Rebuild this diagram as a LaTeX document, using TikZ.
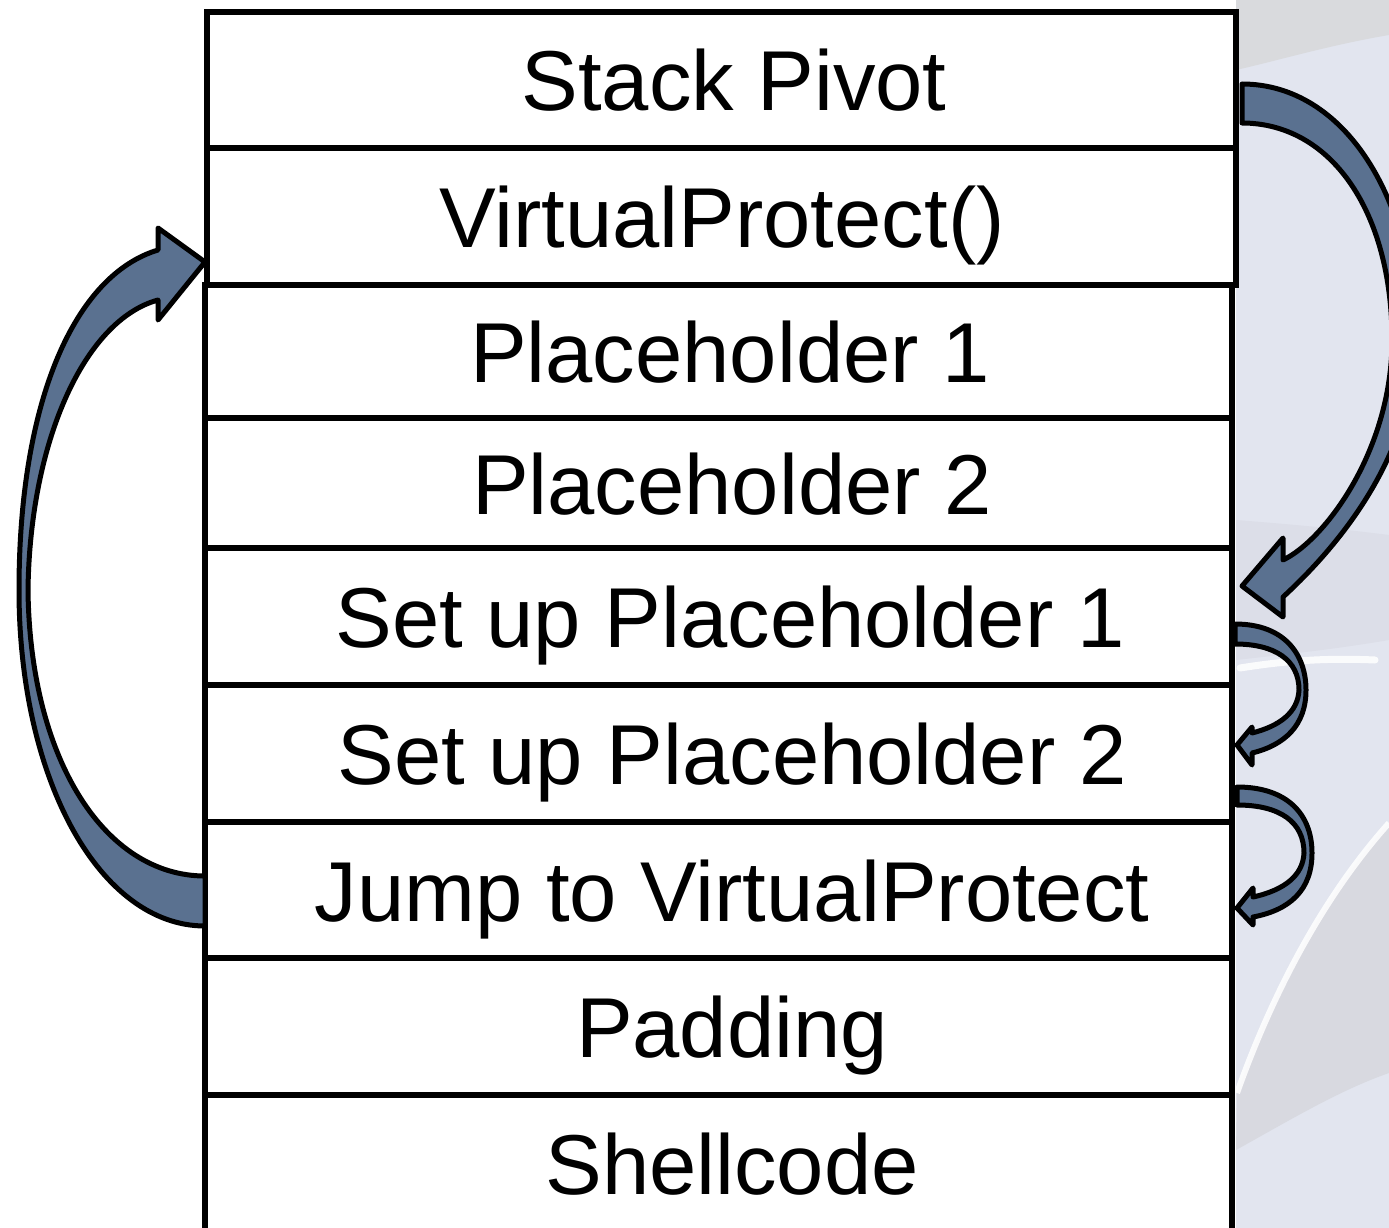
\documentclass[tikz,border=0pt]{standalone}
\usepackage{fontspec}
\setmainfont{Liberation Sans}
\definecolor{arrowblue}{HTML}{5A7190}
\definecolor{bgblue}{HTML}{E2E5EF}
\definecolor{bgtop}{HTML}{D9DADD}
\definecolor{bgmid}{HTML}{DCDEE8}
\definecolor{bgwedge}{HTML}{D8D9E0}
\begin{document}
\begin{tikzpicture}[x=1pt,y=-1pt,
  rowbox/.style={draw=black, fill=white, line width=5.5pt, inner sep=0pt, outer sep=0pt, rectangle},
  lbl/.style={anchor=base, inner sep=0pt, font=\fontsize{85pt}{100pt}\selectfont},
  barrow/.style={fill=arrowblue, draw=black, line width=5pt, line join=round}]
\useasboundingbox (0,0) rectangle (1389,1228);
\begin{scope}
\clip (0,0) rectangle (1389,1228);
% background
\fill[white] (0,0) rectangle (1389,1228);
\fill[bgblue] (1236,0) rectangle (1389,1228);
\fill[bgtop] (1236,0) -- (1389,0) -- (1389,35) .. controls (1330,45) and (1280,60) .. (1236,70) -- cycle;
\fill[bgmid] (1236,520) .. controls (1300,525) and (1350,530) .. (1389,535) -- (1389,640) .. controls (1330,650) and (1280,655) .. (1236,660) -- cycle;
\draw[white, line width=7pt, line cap=round, opacity=0.85] (1240,668) .. controls (1290,660) and (1330,658) .. (1375,660);
\fill[bgwedge] (1389,823) .. controls (1320,900) and (1270,1000) .. (1237,1093) -- (1236,1150) .. controls (1290,1120) and (1340,1090) .. (1389,1073) -- cycle;
\draw[white, line width=6pt, opacity=0.85] (1389,823) .. controls (1320,900) and (1270,1000) .. (1237,1093);
% rows
\node[rowbox, minimum width=1027pt, minimum height=133pt] (r3) at (718.5,351.5) {};
\node[rowbox, minimum width=1027pt, minimum height=130pt] (r4) at (718.5,483) {};
\node[rowbox, minimum width=1027pt, minimum height=137pt] (r5) at (718.5,616.5) {};
\node[rowbox, minimum width=1027pt, minimum height=137pt] (r6) at (718.5,753.5) {};
\node[rowbox, minimum width=1027pt, minimum height=136pt] (r7) at (718.5,890) {};
\node[rowbox, minimum width=1027pt, minimum height=137pt] (r8) at (718.5,1026.5) {};
\node[rowbox, minimum width=1027pt, minimum height=137pt] (r9) at (718.5,1163.5) {};
\node[rowbox, minimum width=1029pt, minimum height=136pt] (r1) at (721.5,80) {};
\node[rowbox, minimum width=1029pt, minimum height=137pt] (r2) at (721.5,216.5) {};
% labels
\node[lbl] (t1) at (734,111) {Stack Pivot};
\node[lbl] (t2) at (722,247.5) {VirtualProtect()};
\node[lbl] (t3) at (730,382.5) {Placeholder 1};
\node[lbl] (t4) at (732,514) {Placeholder 2};
\node[lbl] (t5) at (730,647.5) {Set up Placeholder 1};
\node[lbl] (t6) at (732,784.5) {Set up Placeholder 2};
\node[lbl] (t7) at (732,921) {Jump to VirtualProtect};
\node[lbl] (t8) at (732,1057.5) {Padding};
\node[lbl] (t9) at (732,1194.5) {Shellcode};
% big right arrow: Stack Pivot -> Set up Placeholder 1
\draw[barrow] (1242,84) .. controls (1345,84) and (1415,200) .. (1415,340)
  .. controls (1415,450) and (1345,540) .. (1283,597)
  -- (1283,617) -- (1242,586) -- (1283,538) -- (1283,560)
  .. controls (1325,540) and (1392,450) .. (1392,340)
  .. controls (1392,210) and (1330,123) .. (1242,123) -- cycle;
% small arrow 1: Set up Placeholder 1 -> Set up Placeholder 2
\draw[barrow] (1235,624) .. controls (1285,624) and (1306,655) .. (1306,690)
  .. controls (1306,725) and (1285,745) .. (1252,753)
  -- (1252,765) -- (1237,745) -- (1252,727) -- (1252,733)
  .. controls (1280,726) and (1298,712) .. (1299,690)
  .. controls (1299,660) and (1275,644) .. (1235,644) -- cycle;
% small arrow 2: Set up Placeholder 2 -> Jump to VirtualProtect
\draw[barrow] (1237,787) .. controls (1288,787) and (1312,815) .. (1312,853)
  .. controls (1312,890) and (1290,910) .. (1253,917)
  -- (1253,925) -- (1237,908) -- (1253,888) -- (1253,897)
  .. controls (1285,890) and (1303,875) .. (1304,853)
  .. controls (1304,822) and (1280,805) .. (1237,805) -- cycle;
% left arrow: Jump to VirtualProtect -> VirtualProtect()
\draw[barrow] (205,926) .. controls (100,926) and (19,780) .. (19,590)
  .. controls (19,400) and (75,275) .. (158,250)
  -- (158,228) -- (205,262) -- (158,320) -- (158,300)
  .. controls (85,320) and (30,440) .. (28,590)
  .. controls (30,760) and (105,876) .. (205,876) -- cycle;
\end{scope}
\end{tikzpicture}
\end{document}
